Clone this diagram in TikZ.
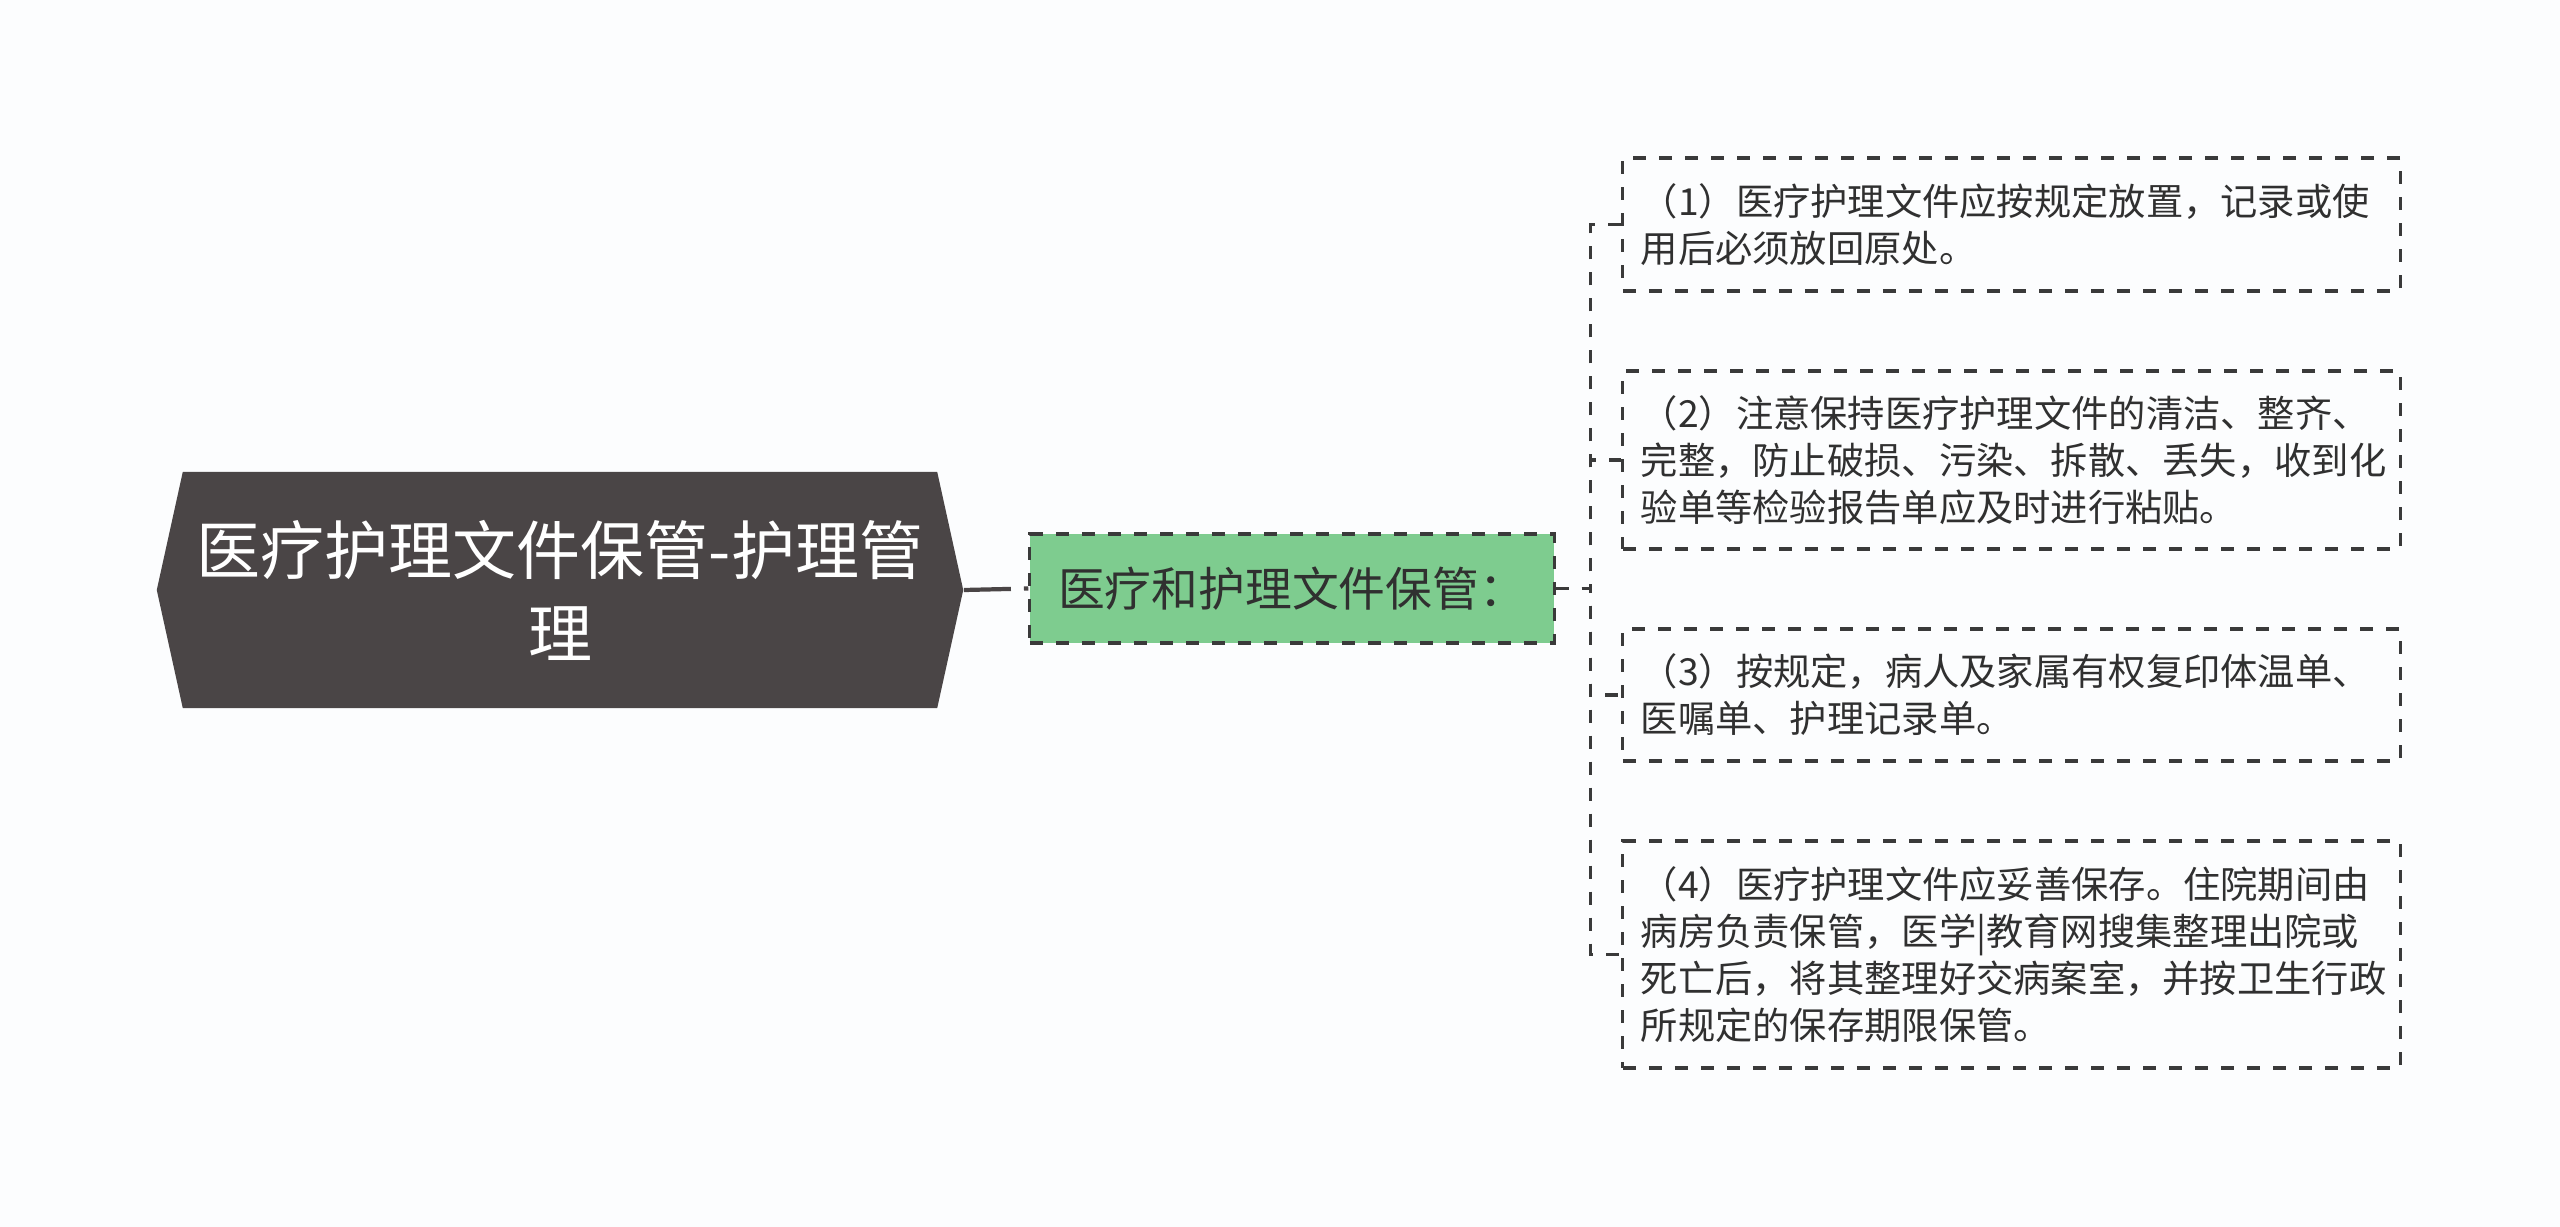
\documentclass[tikz,border=0pt]{standalone}
\usepackage{fontspec}
\setmainfont{Noto Sans CJK SC}

\definecolor{paper}{HTML}{FCFDFE}
\definecolor{rootgray}{HTML}{4A4546}
\definecolor{midgreen}{HTML}{7ECC8F}
\definecolor{linegray}{HTML}{3A3A3A}
\definecolor{textgray}{HTML}{303030}

\tikzset{
	rootbox/.style={minimum width=8.06cm, minimum height=2.36cm, inner sep=0pt,
		fill=paper, text=white, align=center,
		font=\fontsize{18.2pt}{23.6pt}\selectfont,
		path picture={\fill[rootgray] (path picture bounding box.west)
			-- ([xshift=0.26cm]path picture bounding box.north west)
			-- ([xshift=-0.26cm]path picture bounding box.north east)
			-- (path picture bounding box.east)
			-- ([xshift=-0.26cm]path picture bounding box.south east)
			-- ([xshift=0.26cm]path picture bounding box.south west) -- cycle;}},
	midbox/.style={minimum width=5.24cm, minimum height=1.09cm, inner sep=0pt,
		fill=midgreen, draw=linegray, line width=0.9pt, dash pattern=on 0.13cm off 0.13cm,
		text=textgray, font=\fontsize{13.3pt}{16pt}\selectfont},
	leafbox/.style={minimum width=7.77cm, text width=7.41cm, inner xsep=0.18cm, inner ysep=0pt,
		draw=linegray, line width=0.9pt, dash pattern=on 0.13cm off 0.13cm,
		text=textgray, align=left, font=\fontsize{10.6pt}{13.4pt}\selectfont},
	rootlink/.style={draw=rootgray, line width=1.2pt, dash pattern=on 0.47cm off 0.13cm},
	branch/.style={draw=linegray, line width=0.9pt, dash pattern=on 0.13cm off 0.13cm},
}

\begin{document}
\begin{tikzpicture}[x=0.01cm, y=-0.01cm]
	\fill[paper] (0,0) rectangle (2560,1227);
	\useasboundingbox (0,0) rectangle (2560,1227);

	\node[rootbox] (root) at (560,590) {医疗护理文件保管-护理管\\理};
	\node[midbox] (mid) at (1292,588.5) {医疗和护理文件保管：};

	\node[leafbox, minimum height=1.33cm] (leaf1) at (2011.5,224.5)
		{（1）医疗护理文件应按规定放置，记录或使\\用后必须放回原处。};
	\node[leafbox, minimum height=1.78cm] (leaf2) at (2011.5,460)
		{（2）注意保持医疗护理文件的清洁、整齐、\\完整，防止破损、污染、拆散、丢失，收到化\\验单等检验报告单应及时进行粘贴。};
	\node[leafbox, minimum height=1.32cm] (leaf3) at (2011.5,695)
		{（3）按规定，病人及家属有权复印体温单、\\医嘱单、护理记录单。};
	\node[leafbox, minimum height=2.27cm] (leaf4) at (2011.5,954.5)
		{（4）医疗护理文件应妥善保存。住院期间由\\病房负责保管，医学|教育网搜集整理出院或\\死亡后，将其整理好交病案室，并按卫生行政\\所规定的保存期限保管。};

	\draw[rootlink] (root.east) -- (mid.west);
	\foreach \n in {1,...,4}
		\draw[branch] (mid.east) -- ++(35,0) |- (leaf\n.west);
\end{tikzpicture}
\end{document}
